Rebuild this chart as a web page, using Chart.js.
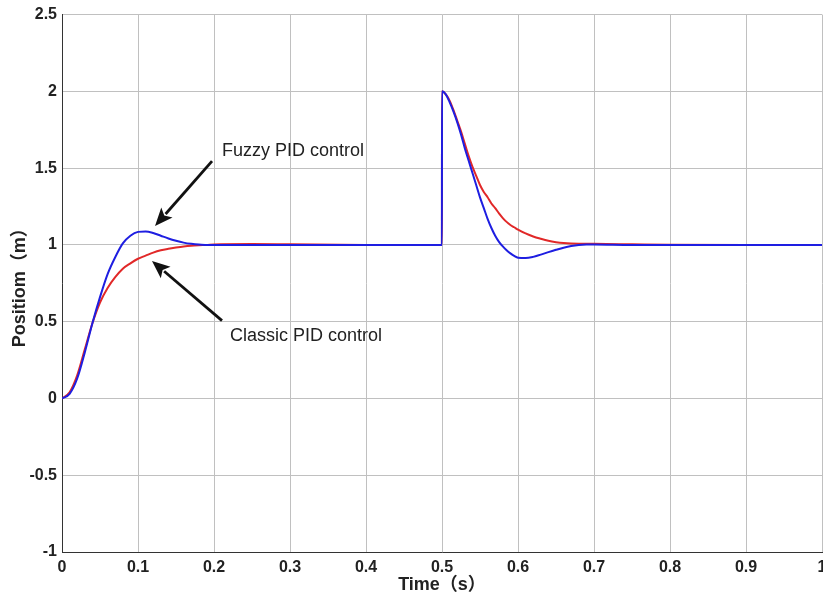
<!DOCTYPE html>
<html>
<head>
<meta charset="utf-8">
<script src="https://cdn.jsdelivr.net/npm/chart.js@4.4.1/dist/chart.umd.min.js"></script>
<style>
  html, body { margin: 0; padding: 0; background: #fff; overflow: hidden; }
  #wrap { width: 900px; height: 596px; }
</style>
</head>
<body>
<div id="wrap"><canvas id="c" width="900" height="596"></canvas></div>
<script>
// ---- data ----
const times = [0,0.01,0.02,0.03,0.04,0.05,0.06,0.07,0.08,0.09,0.10,0.11,0.12,0.13,0.14,0.15,0.16,0.17,0.18,0.19,0.20,
  0.25,0.30,0.40,0.4999,
  0.50,
  0.505,0.51,0.515,0.52,0.525,0.53,0.535,0.54,0.545,0.55,0.555,0.56,0.565,0.57,0.575,0.58,0.585,0.59,0.595,0.60,
  0.61,0.62,0.63,0.64,0.65,0.66,0.67,0.68,0.69,0.70,
  0.75,0.80,0.90,1.00];

const classicPID = [0,0.04,0.15,0.32,0.49,0.625,0.72,0.79,0.845,0.88,0.91,0.93,0.95,0.965,0.975,0.983,0.99,0.995,0.998,1.0,1.003,
  1.006,1.004,1.0,1.0,
  2.0,
  1.98,1.94,1.88,1.81,1.74,1.66,1.58,1.51,1.45,1.39,1.345,1.31,1.27,1.24,1.205,1.175,1.15,1.13,1.115,1.10,
  1.075,1.055,1.04,1.027,1.018,1.012,1.009,1.008,1.008,1.007,
  1.004,1.001,1.0,1.0];

const fuzzyPID = [0,0.03,0.13,0.30,0.49,0.66,0.81,0.92,1.01,1.06,1.085,1.088,1.078,1.06,1.042,1.027,1.015,1.007,1.002,1.0,0.999,
  1.0,1.0,1.0,1.0,
  2.0,
  1.98,1.93,1.87,1.80,1.72,1.63,1.55,1.47,1.39,1.31,1.24,1.17,1.11,1.06,1.02,0.99,0.965,0.945,0.928,0.916,
  0.914,0.922,0.937,0.953,0.968,0.982,0.993,1.0,1.003,1.003,
  1.0,1.0,1.0,1.0];

const xTickValues = [0,0.1,0.2,0.3,0.4,0.5,0.6,0.7,0.8,0.9,1];
const yTickValues = [-1,-0.5,0,0.5,1,1.5,2,2.5];

const seriesNames = ['Fuzzy PID control', 'Classic PID control'];
const xTitle = 'Time（s）';
const yTitle = 'Positiom（m）';

// annotations: text + arrow, anchored in data coordinates
const annotations = [
  { text: 'Fuzzy PID control', textAt: [0.2105, 1.578], tail: [0.1974, 1.5455], head: [0.1224, 1.1234] },
  { text: 'Classic PID control', textAt: [0.221, 0.377], tail: [0.2105, 0.5065], head: [0.1184, 0.896] }
];

const toXY = (ys) => times.map((t, i) => ({ x: t, y: ys[i] }));

const whiteBg = {
  id: 'whiteBg',
  beforeDraw(chart) {
    const ctx = chart.ctx;
    ctx.save();
    ctx.fillStyle = '#ffffff';
    ctx.fillRect(0, 0, chart.width, chart.height);
    ctx.restore();
  }
};

const annot = {
  id: 'annot',
  afterDatasetsDraw(chart) {
    const ctx = chart.ctx;
    const xs = chart.scales.x, ys = chart.scales.y;
    ctx.save();
    annotations.forEach(a => {
      const tx = xs.getPixelForValue(a.tail[0]), ty = ys.getPixelForValue(a.tail[1]);
      const hx = xs.getPixelForValue(a.head[0]), hy = ys.getPixelForValue(a.head[1]);
      const ang = Math.atan2(hy - ty, hx - tx);
      const L = 18, W = 7.5;
      const bx = hx - L * Math.cos(ang), by = hy - L * Math.sin(ang);
      ctx.strokeStyle = '#111';
      ctx.fillStyle = '#111';
      ctx.lineWidth = 2.8;
      ctx.beginPath();
      ctx.moveTo(tx, ty);
      ctx.lineTo(bx + 2 * Math.cos(ang), by + 2 * Math.sin(ang));
      ctx.stroke();
      ctx.beginPath();
      ctx.moveTo(hx, hy);
      ctx.lineTo(bx + W * Math.sin(ang), by - W * Math.cos(ang));
      ctx.lineTo(bx + 4 * Math.cos(ang), by + 4 * Math.sin(ang));
      ctx.lineTo(bx - W * Math.sin(ang), by + W * Math.cos(ang));
      ctx.closePath();
      ctx.fill();
      ctx.font = '18px "Liberation Sans", Arial, sans-serif';
      ctx.fillStyle = '#222';
      ctx.textAlign = 'left';
      ctx.textBaseline = 'alphabetic';
      ctx.fillText(a.text, xs.getPixelForValue(a.textAt[0]), ys.getPixelForValue(a.textAt[1]));
    });
    ctx.restore();
  }
};

const tickFont = { family: '"Liberation Sans", Arial, sans-serif', size: 16, weight: 'bold' };
const titleFont = { family: '"Liberation Sans", Arial, "Noto Sans CJK SC", sans-serif', size: 18, weight: 'bold', lineHeight: 1.2 };

new Chart(document.getElementById('c'), {
  type: 'line',
  data: {
    datasets: [
      { label: seriesNames[0], data: toXY(fuzzyPID), borderColor: 'rgb(30,30,225)', borderWidth: 2, pointRadius: 0, cubicInterpolationMode: 'monotone', fill: false },
      { label: seriesNames[1], data: toXY(classicPID), borderColor: 'rgb(225,40,40)', borderWidth: 2, pointRadius: 0, cubicInterpolationMode: 'monotone', fill: false }
    ]
  },
  options: {
    responsive: false,
    animation: false,
    devicePixelRatio: 1,
    layout: { padding: { top: 13, right: 78, left: 0, bottom: 0 } },
    plugins: { legend: { display: false }, tooltip: { enabled: false } },
    scales: {
      x: {
        type: 'linear', min: 0, max: 1,
        afterBuildTicks: (s) => { s.ticks = xTickValues.map(v => ({ value: v })); },
        afterFit: (s) => { s.height = 44; },
        ticks: { font: tickFont, color: '#222', padding: 6, maxRotation: 0, autoSkip: false,
          callback: (v) => String(Number(v.toFixed(1))) },
        grid: { color: '#c0c0c0', lineWidth: 1, drawTicks: false },
        border: { color: '#333', width: 1 },
        title: { display: true, text: xTitle, font: titleFont, color: '#222', padding: { top: 0, bottom: 0 } }
      },
      y: {
        type: 'linear', min: -1, max: 2.5,
        afterBuildTicks: (s) => { s.ticks = yTickValues.map(v => ({ value: v })); },
        afterFit: (s) => { s.width = 62; },
        ticks: { font: tickFont, color: '#222', padding: 5, autoSkip: false,
          callback: (v) => String(Number(v.toFixed(1))) },
        grid: { color: '#c0c0c0', lineWidth: 1, drawTicks: false },
        border: { color: '#333', width: 1 },
        title: { display: true, text: yTitle, font: titleFont, color: '#222', padding: { top: 9, bottom: 0 } }
      }
    }
  },
  plugins: [whiteBg, annot]
});
</script>
</body>
</html>
